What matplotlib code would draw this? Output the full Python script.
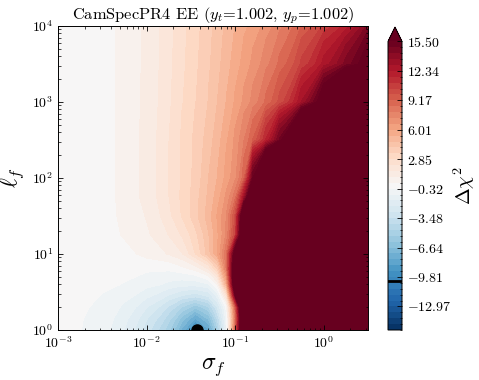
import numpy as np
import matplotlib
matplotlib.use("Agg")
import matplotlib.pyplot as plt
from matplotlib.ticker import FixedLocator, FuncFormatter

# ---- data ----
log_sigma_f = [-3.0, -2.75, -2.5, -2.25, -2.0, -1.75, -1.6, -1.45, -1.3, -1.2,
               -1.1, -1.0, -0.9, -0.8, -0.65, -0.5, -0.25, 0.0, 0.25, 0.5]
log_ell_f = [0.0, 0.15, 0.3, 0.45, 0.6, 0.8, 1.0, 1.25, 1.5, 1.75, 2.0, 2.5, 3.0, 3.5, 4.0]

dchi2_l00 = [-0.1, -0.3, -0.7, -1.6, -3.2, -5.2, -7.5, -10.0, -8.0, -5.0, -1.0, 9.0, 22, 35, 35, 35, 35, 35, 35, 35]
dchi2_l15 = [-0.1, -0.28, -0.6, -1.4, -2.8, -4.5, -6.3, -8.0, -6.5, -4.0, -0.6, 8.0, 22, 35, 35, 35, 35, 35, 35, 35]
dchi2_l30 = [-0.1, -0.22, -0.5, -1.1, -2.2, -3.6, -4.8, -5.8, -4.8, -2.8, -0.1, 9.0, 23, 35, 35, 35, 35, 35, 35, 35]
dchi2_l45 = [-0.08, -0.15, -0.35, -0.7, -1.4, -2.3, -2.9, -3.2, -2.7, -1.3, 2.0, 15, 28, 35, 35, 35, 35, 35, 35, 35]
dchi2_l60 = [-0.06, -0.1, -0.2, -0.35, -0.7, -1.1, -1.3, -1.3, -1.0, 0.5, 5.5, 19, 30, 35, 35, 35, 35, 35, 35, 35]
dchi2_l80 = [-0.04, -0.05, -0.07, -0.1, -0.2, -0.2, 0.1, 0.5, 1.6, 3.5, 8.0, 19, 30, 35, 35, 35, 35, 35, 35, 35]
dchi2_l100 = [-0.03, -0.03, -0.03, 0.1, 0.55, 1.0, 1.55, 2.85, 4.5, 6.0, 8.5, 17, 26, 35, 35, 35, 35, 35, 35, 35]
dchi2_l125 = [0.0, 0.0, 0.0, 0.4, 0.85, 1.6, 2.3, 3.3, 4.7, 5.9, 7.4, 10.5, 20, 28, 35, 35, 35, 35, 35, 35]
dchi2_l150 = [0.0, 0.0, 0.05, 0.5, 1.0, 2.05, 2.9, 3.9, 5.1, 6.1, 7.3, 10.0, 19, 25, 32, 35, 35, 35, 35, 35]
dchi2_l175 = [0.0, 0.0, 0.05, 0.55, 1.2, 2.2, 3.0, 3.85, 4.9, 5.7, 6.8, 8.3, 13, 20, 28, 33, 35, 35, 35, 35]
dchi2_l200 = [0.0, 0.0, 0.05, 0.55, 1.2, 2.22, 2.95, 3.7, 4.75, 5.4, 6.25, 7.1, 9.0, 15.5, 22, 28, 32, 35, 35, 35]
dchi2_l250 = [0.0, 0.0, 0.05, 0.55, 1.2, 2.2, 2.95, 3.65, 4.45, 5.1, 5.9, 6.8, 7.9, 9.2, 11.8, 15.0, 22, 28, 32, 35]
dchi2_l300 = [0.0, 0.0, 0.05, 0.55, 1.15, 2.1, 2.8, 3.45, 4.15, 4.75, 5.4, 6.1, 6.8, 7.5, 8.7, 10.0, 13.0, 17.0, 22, 26]
dchi2_l350 = [0.0, 0.0, 0.05, 0.55, 1.12, 2.05, 2.7, 3.35, 4.0, 4.55, 5.1, 5.7, 6.25, 6.8, 7.7, 8.7, 10.6, 12.6, 14.5, 16.5]
dchi2_l400 = [0.0, 0.0, 0.05, 0.55, 1.1, 2.0, 2.65, 3.27, 3.9, 4.4, 4.9, 5.4, 5.85, 6.25, 6.9, 7.7, 9.2, 10.6, 12.0, 14.5]

best_fit_sigma_f = 0.037
best_fit_ell_f = 1.0
best_fit_dchi2 = -10.2

level_min, level_max, n_levels = -15.5, 15.5, 50

title = r"CamSpecPR4 EE ($y_t$=1.002, $y_p$=1.002)"

# ---- style ----
plt.rcParams.update({
    "font.family": "serif",
    "font.serif": ["cmr10"],
    "mathtext.fontset": "cm",
    "axes.formatter.use_mathtext": True,
    "axes.unicode_minus": True,
    "xtick.direction": "in", "ytick.direction": "in",
    "xtick.top": True, "ytick.right": True,
    "xtick.minor.visible": True, "ytick.minor.visible": True,
    "xtick.major.size": 3.5, "ytick.major.size": 3.5,
    "xtick.minor.size": 1.8, "ytick.minor.size": 1.8,
    "xtick.major.width": 0.6, "ytick.major.width": 0.6,
    "xtick.minor.width": 0.5, "ytick.minor.width": 0.5,
    "axes.linewidth": 0.7,
    "xtick.labelsize": 10, "ytick.labelsize": 10,
})

Z = np.array([dchi2_l00, dchi2_l15, dchi2_l30, dchi2_l45, dchi2_l60, dchi2_l80,
              dchi2_l100, dchi2_l125, dchi2_l150, dchi2_l175, dchi2_l200,
              dchi2_l250, dchi2_l300, dchi2_l350, dchi2_l400])
X, Y = np.meshgrid(10.0 ** np.array(log_sigma_f), 10.0 ** np.array(log_ell_f))

levels = np.linspace(level_min, level_max, n_levels)

fig = plt.figure(figsize=(4.79, 3.80), dpi=100)
ax = fig.add_axes([58 / 479, 50 / 380, 310 / 479, 304 / 380])

cf = ax.contourf(X, Y, Z, levels=levels, cmap="RdBu_r", extend="max")
ax.plot([best_fit_sigma_f], [best_fit_ell_f], "o", color="k", ms=8, zorder=5)

ax.set_xscale("log")
ax.set_yscale("log")
ax.set_xlim(1e-3, 10 ** 0.5)
ax.set_ylim(1, 1e4)
ax.set_xlabel(r"$\sigma_f$", fontsize=17, labelpad=4)
ax.set_ylabel(r"$\ell_f$", fontsize=17, labelpad=4)
ax.set_title(title, fontsize=11.8, pad=5)

cax = fig.add_axes([388 / 479, 50 / 380, 14 / 479, 303 / 380])
cb = fig.colorbar(cf, cax=cax, extend="max")
cb.set_ticks(levels[4::5])
cb.ax.yaxis.set_major_formatter(FuncFormatter(lambda v, p: r"$%.2f$" % v))
cb.ax.yaxis.set_minor_locator(FixedLocator(levels))
cb.ax.tick_params(which="both", direction="in", right=True, left=False)
cb.ax.tick_params(which="major", length=3.5, labelsize=10)
cb.ax.tick_params(which="minor", length=1.8)
cb.outline.set_linewidth(0.7)
cb.ax.axhline(best_fit_dchi2, color="k", lw=2.0)
cb.set_label(r"$\Delta\chi^2$", fontsize=14.5, labelpad=0)

fig.savefig("out.png", dpi=100)
